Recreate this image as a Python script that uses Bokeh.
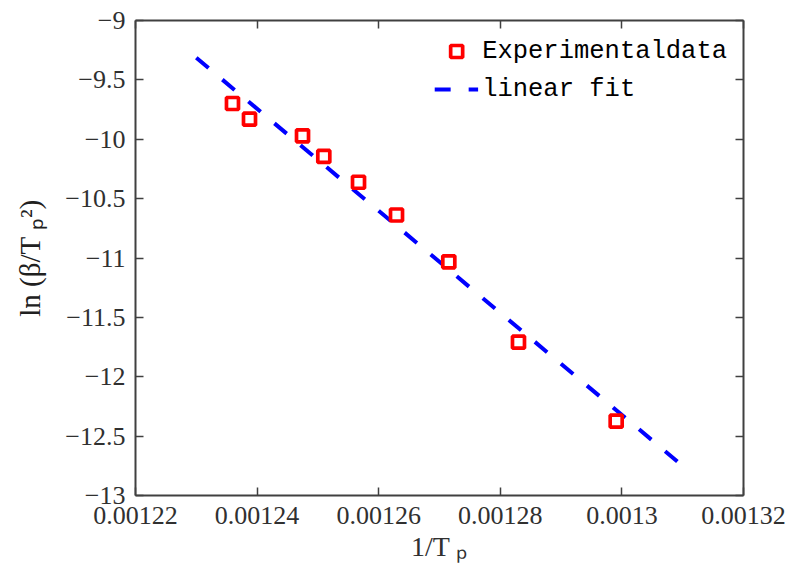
from bokeh.plotting import figure
from bokeh.models import (LinearAxis, FixedTicker, CustomJSTickFormatter, Range1d,
                          Legend, LegendItem, ColumnDataSource)
from bokeh.embed import file_html
from bokeh.resources import INLINE

# ---- data ----
inv_Tp = [0.00123595, 0.00123875, 0.00124747, 0.00125097, 0.00125668,
          0.00126293, 0.00127153, 0.00128299, 0.00129906]
ln_beta_Tp2 = [-9.699, -9.831, -9.971, -10.145, -10.362,
               -10.638, -11.032, -11.709, -12.374]
fit_x = [0.00123, 0.00131]
fit_y = [-9.314, -12.751]
x_ticks = [0.00122, 0.00124, 0.00126, 0.00128, 0.0013, 0.00132]
y_ticks = [-13, -12.5, -12, -11.5, -11, -10.5, -10, -9.5, -9]

AX = "#404040"
TICK_FONT = "Liberation Serif"

p = figure(width=789, height=578, output_backend="svg", toolbar_location=None,
           x_range=Range1d(0.00122, 0.00132), y_range=Range1d(-13, -9),
           min_border_left=135, min_border_right=46, min_border_top=20,
           min_border_bottom=83, background_fill_color="white",
           border_fill_color="white")
p.outline_line_color = None
p.grid.visible = False

fmt = CustomJSTickFormatter(code="return String(tick).replace('-', '\\u2212');")
blank = CustomJSTickFormatter(code="return '';")


def style(ax):
    ax.axis_line_color = AX
    ax.axis_line_width = 2
    ax.major_tick_line_color = AX
    ax.major_tick_line_width = 1.5
    ax.major_tick_in = 8
    ax.major_tick_out = 0
    ax.minor_tick_line_color = None
    ax.major_label_text_font = TICK_FONT
    ax.major_label_text_font_size = "26px"
    ax.major_label_text_color = "#303030"
    ax.major_label_standoff = 10


style(p.xaxis[0])
style(p.yaxis[0])
p.xaxis[0].ticker = FixedTicker(ticks=x_ticks)
p.yaxis[0].ticker = FixedTicker(ticks=y_ticks)
p.xaxis[0].formatter = fmt
p.yaxis[0].formatter = fmt
p.xaxis[0].major_label_standoff = 11

p.xaxis[0].axis_label = "1/T \u209a"
p.xaxis[0].axis_label_text_font = TICK_FONT
p.xaxis[0].axis_label_text_font_style = "normal"
p.xaxis[0].axis_label_text_font_size = "28px"
p.xaxis[0].axis_label_text_color = "#303030"
p.xaxis[0].axis_label_standoff = 4

p.yaxis[0].axis_label = "ln (\u03b2/T \u209a\u00b2)"
p.yaxis[0].axis_label_text_font = TICK_FONT
p.yaxis[0].axis_label_text_font_style = "normal"
p.yaxis[0].axis_label_text_font_size = "29px"
p.yaxis[0].axis_label_text_color = "#202020"
p.yaxis[0].axis_label_standoff = 16

top = LinearAxis(ticker=FixedTicker(ticks=x_ticks), formatter=blank)
right = LinearAxis(ticker=FixedTicker(ticks=y_ticks), formatter=blank)
style(top)
style(right)
top.major_label_text_font_size = "0px"
right.major_label_text_font_size = "0px"
top.major_label_standoff = 0
right.major_label_standoff = 0
p.add_layout(top, "above")
p.add_layout(right, "right")

src = ColumnDataSource(dict(x=inv_Tp, y=ln_beta_Tp2))
fit_src = ColumnDataSource(dict(x=fit_x, y=fit_y))

fit = p.line("x", "y", source=fit_src, line_color="#0000ff", line_width=4,
             line_dash="16 18")
pts = p.scatter("x", "y", source=src, marker="square", size=12,
                line_color="#ff0000", line_width=3.7, fill_color="white")

legend = Legend(items=[LegendItem(label="Experimentaldata", renderers=[pts]),
                       LegendItem(label="linear fit", renderers=[fit])],
                location="top_right", margin=16, padding=9,
                border_line_color=None, background_fill_alpha=0,
                label_text_font="Liberation Mono", label_text_font_size="25.5px",
                label_text_color="black", glyph_width=44, glyph_height=30,
                label_height=30, label_standoff=4, spacing=8)
p.add_layout(legend)

open("out.html", "w").write(file_html(p, INLINE))
